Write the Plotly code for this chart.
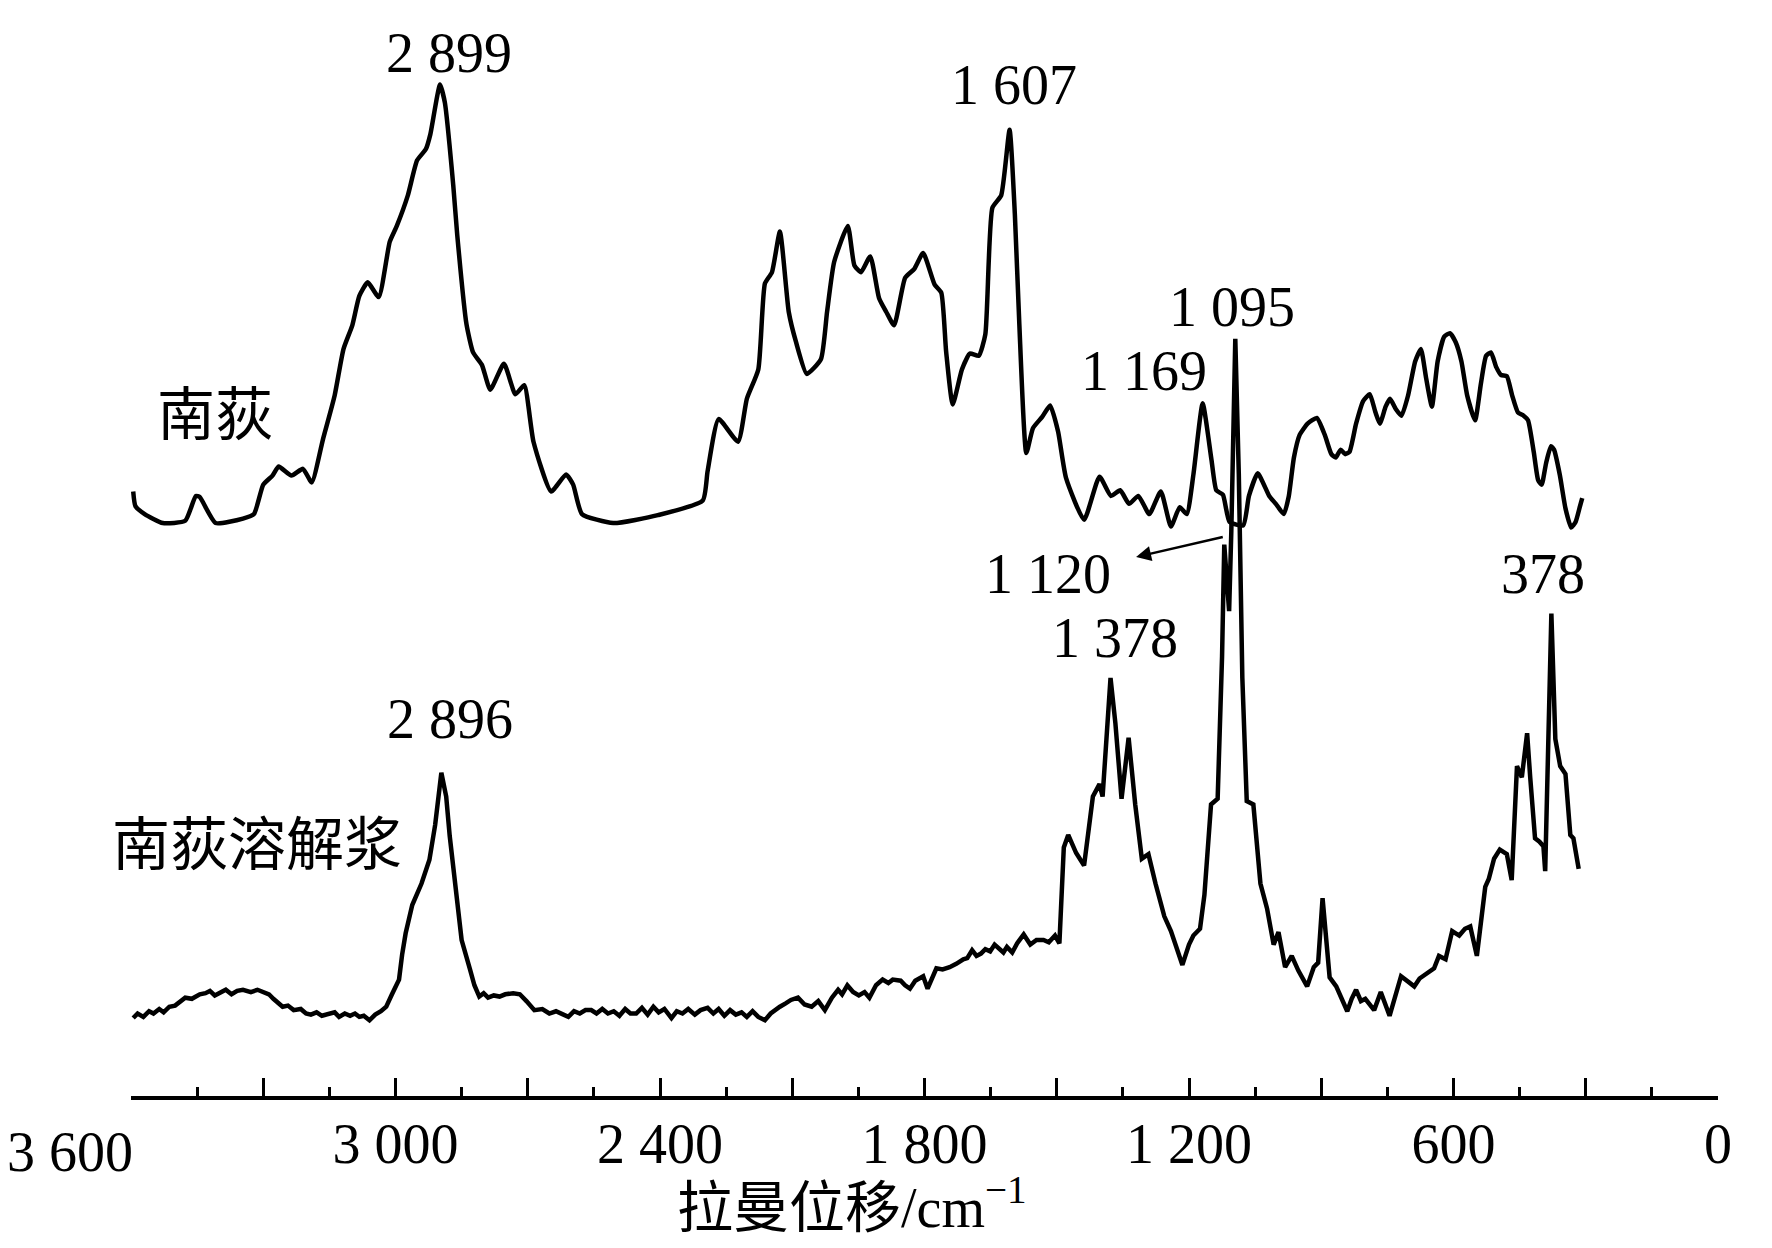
import plotly.graph_objects as go

# 南荻 (upper spectrum): Raman shift (cm-1) and intensity (a.u., offset)
UPPER_WN = [
    3595, 3590, 3569, 3528, 3477, 3453, 3444, 3408, 3346, 3321, 3300, 3279, 3265, 3236, 3210, 3190,
    3164, 3138, 3118, 3098, 3082, 3063, 3038, 3013, 2997, 2972, 2951, 2931, 2921, 2899, 2888, 2869,
    2860, 2839, 2824, 2804, 2785, 2754, 2728, 2708, 2687, 2647, 2613, 2597, 2577, 2506, 2405, 2303,
    2292, 2267, 2223, 2203, 2177, 2162, 2146, 2128, 2108, 2092, 2067, 2035, 2021, 2005, 1974, 1959,
    1944, 1923, 1903, 1887, 1869, 1844, 1823, 1803, 1777, 1762, 1751, 1736, 1715, 1697, 1677, 1662,
    1646, 1626, 1607, 1595, 1585, 1569, 1554, 1533, 1515, 1497, 1479, 1438, 1403, 1377, 1356, 1336,
    1315, 1290, 1264, 1241, 1221, 1205, 1190, 1169, 1149, 1138, 1123, 1108, 1077, 1064, 1044, 1018,
    1003, 985, 974, 962, 949, 931, 910, 892, 877, 867, 856, 846, 836, 821, 805, 790,
    777, 767, 754, 744, 731, 718, 703, 687, 674, 662, 649, 636, 621, 608, 595, 582,
    569, 551, 538, 526, 515, 503, 492, 479, 467, 454, 441, 431, 418, 408, 400, 390,
    379, 372, 359, 346, 333, 323, 313, 308,
]
UPPER_I = [
    535, 522, 515, 507, 509, 531, 530, 507, 511, 515, 541, 549, 557, 549, 555, 543,
    582, 620, 661, 682, 708, 720, 707, 756, 770, 797, 828, 838, 851, 895, 879, 806,
    762, 683, 658, 647, 625, 648, 621, 629, 579, 535, 550, 541, 515, 507, 514, 527,
    553, 599, 579, 617, 643, 719, 729, 765, 694, 668, 639, 652, 694, 738, 770, 735,
    729, 743, 706, 694, 682, 724, 732, 746, 718, 711, 659, 612, 643, 657, 655, 674,
    786, 797, 855, 780, 684, 569, 591, 601, 611, 588, 547, 510, 548, 531, 536, 524,
    531, 515, 535, 504, 521, 515, 550, 613, 563, 536, 532, 508, 505, 531, 551, 531,
    524, 515, 530, 565, 585, 595, 600, 585, 568, 565, 572, 568, 570, 595, 615, 621,
    605, 595, 610, 617, 608, 602, 620, 650, 661, 635, 610, 650, 672, 675, 667, 650,
    620, 598, 630, 655, 658, 645, 638, 637, 620, 605, 602, 598, 570, 545, 541, 560,
    575, 572, 550, 520, 503, 508, 522, 529,
]

# 南荻溶解浆 (lower spectrum)
LOWER_WN = [
    3595, 3585, 3572, 3559, 3549, 3536, 3526, 3513, 3500, 3487, 3477, 3462, 3444, 3431, 3421, 3410,
    3397, 3385, 3372, 3359, 3346, 3328, 3313, 3297, 3287, 3277, 3264, 3256, 3244, 3231, 3215, 3203,
    3192, 3179, 3167, 3154, 3138, 3128, 3115, 3103, 3092, 3082, 3072, 3059, 3046, 3033, 3021, 3008,
    2992, 2985, 2977, 2962, 2941, 2923, 2910, 2896, 2885, 2877, 2865, 2850, 2831, 2821, 2810, 2800,
    2790, 2777, 2764, 2751, 2733, 2718, 2703, 2685, 2667, 2651, 2636, 2621, 2608, 2595, 2582, 2569,
    2556, 2544, 2531, 2518, 2505, 2492, 2479, 2467, 2454, 2441, 2428, 2415, 2403, 2390, 2374, 2362,
    2349, 2336, 2321, 2308, 2292, 2279, 2267, 2254, 2241, 2228, 2215, 2203, 2190, 2177, 2162, 2149,
    2136, 2128, 2115, 2103, 2087, 2072, 2056, 2041, 2026, 2010, 1996, 1987, 1975, 1962, 1949, 1936,
    1925, 1910, 1895, 1882, 1872, 1854, 1844, 1833, 1821, 1803, 1793, 1773, 1759, 1743, 1728, 1712,
    1703, 1692, 1682, 1672, 1662, 1651, 1641, 1631, 1621, 1613, 1601, 1590, 1575, 1560, 1546, 1530,
    1518, 1504, 1494, 1484, 1474, 1456, 1438, 1418, 1403, 1396, 1378, 1367, 1353, 1337, 1322, 1307,
    1292, 1276, 1256, 1241, 1231, 1215, 1200, 1190, 1175, 1165, 1150, 1135, 1125, 1120, 1109, 1104,
    1095, 1087, 1079, 1069, 1054, 1038, 1023, 1008, 997, 982, 967, 952, 932, 917, 907, 897,
    881, 866, 841, 831, 821, 810, 800, 780, 765, 754, 745, 719, 705, 689, 677, 664,
    644, 633, 618, 603, 587, 574, 562, 547, 538, 528, 520, 508, 495, 479, 468, 456,
    445, 433, 426, 415, 405, 396, 392, 385, 378, 369, 358, 346, 335, 328, 316,
]
LOWER_I = [
    69, 73, 70, 75, 73, 77, 74, 79, 80, 84, 87, 86, 90, 91, 93, 89,
    92, 94, 90, 93, 94, 92, 94, 92, 90, 86, 82, 79, 80, 76, 77, 73,
    72, 74, 71, 72, 74, 70, 73, 71, 73, 70, 71, 67, 72, 75, 79, 90,
    103, 125, 144, 169, 188, 209, 240, 286, 265, 230, 188, 138, 112, 98, 88, 91,
    87, 89, 88, 90, 91, 90, 84, 76, 77, 73, 75, 72, 70, 75, 73, 76,
    76, 73, 77, 73, 75, 71, 77, 73, 73, 78, 72, 79, 74, 77, 69, 75,
    73, 77, 72, 76, 78, 73, 77, 71, 76, 72, 74, 70, 75, 70, 67, 73,
    77, 79, 82, 85, 87, 81, 79, 84, 76, 87, 94, 90, 98, 92, 89, 92,
    87, 98, 103, 100, 103, 102, 98, 95, 102, 106, 95, 113, 112, 114, 117, 121,
    122, 129, 124, 126, 130, 128, 134, 131, 127, 132, 127, 135, 143, 134, 138, 138,
    136, 142, 135, 220, 231, 215, 204, 265, 276, 265, 370, 330, 263, 317, 258, 210,
    214, 188, 159, 146, 134, 116, 134, 142, 148, 178, 258, 263, 389, 488, 429, 500,
    670, 550, 370, 261, 258, 188, 166, 134, 145, 114, 124, 111, 97, 114, 118, 175,
    105, 97, 75, 86, 94, 84, 86, 76, 92, 80, 71, 106, 102, 97, 104, 108,
    113, 124, 121, 146, 142, 148, 150, 124, 155, 185, 192, 210, 218, 214, 191, 292,
    282, 321, 282, 228, 225, 221, 199, 310, 427, 316, 292, 285, 231, 228, 201,
]

TICK_VALS = [3600, 3300, 3000, 2700, 2400, 2100, 1800, 1500, 1200, 900, 600, 300, 0]
TICK_TEXT = ["", "", "3 000", "", "2 400", "", "1 800", "", "1 200", "", "600", "", "0"]

# peak labels: text, x (cm-1), y (a.u.)
PEAK_TEXT = ["2 899", "1 607", "1 095", "1 169", "1 120", "1 378", "378", "2 896"]
PEAK_X = [2879, 1597, 1103, 1303, 1520, 1367, 397, 2877]
PEAK_Y = [923, 895, 698, 642, 462, 405, 462, 334]

SERIES_NAMES = ["南荻", "南荻溶解浆"]
NAME_X = [3410, 3315]
NAME_Y = [602, 222]

FONT = "Liberation Serif, Noto Sans CJK SC, serif"

fig = go.Figure()
fig.add_trace(go.Scatter(x=UPPER_WN, y=UPPER_I, mode="lines",
                         line=dict(color="black", width=4.5, shape="spline", smoothing=0.5),
                         showlegend=False))
fig.add_trace(go.Scatter(x=LOWER_WN, y=LOWER_I, mode="lines",
                         line=dict(color="black", width=4.5), showlegend=False))

for t, x, y in zip(PEAK_TEXT, PEAK_X, PEAK_Y):
    fig.add_annotation(x=x, y=y, text=t, showarrow=False,
                       font=dict(family=FONT, size=56, color="black"))

for t, x, y in zip(SERIES_NAMES, NAME_X, NAME_Y):
    fig.add_annotation(x=x, y=y, text=t, showarrow=False,
                       font=dict(family=FONT, size=58, color="black"))

# arrow from the 1120 peak to its label
fig.add_annotation(x=1320, y=477, ax=1120, ay=495, axref="x", ayref="y",
                   text="", showarrow=True, arrowhead=2, arrowsize=1.2,
                   arrowwidth=2.5, arrowcolor="black")

# 3 600 label sits left of the axis start
fig.add_annotation(x=3600, y=0, yref="y", xanchor="right", yanchor="middle",
                   xshift=4, yshift=-56,
                   text="3 600", showarrow=False,
                   font=dict(family=FONT, size=56, color="black"))

fig.add_annotation(x=0.4543, y=-0.133, xref="paper", yref="paper",
                   text="拉曼位移/cm<sup>−1</sup>", showarrow=False,
                   font=dict(family=FONT, size=56, color="black"))

fig.update_xaxes(
    range=[3600, 0], showline=True, linecolor="black", linewidth=3.5,
    showgrid=False, zeroline=False,
    tickmode="array", tickvals=TICK_VALS, ticktext=TICK_TEXT,
    ticks="inside", ticklen=18, tickwidth=3, tickcolor="black",
    minor=dict(dtick=150, tick0=0, ticks="inside", ticklen=9, tickwidth=3, tickcolor="black"),
    tickfont=dict(family=FONT, size=56, color="black"),
    ticklabelstandoff=-4,
)
fig.update_yaxes(range=[0, 962.8], visible=False)

# page body keeps an 8 px margin, so the figure is 16 px smaller than the window
fig.update_layout(
    width=1756, height=1232,
    margin=dict(l=123, r=46, t=0, b=144),
    paper_bgcolor="white", plot_bgcolor="white",
    showlegend=False,
)

fig.write_html("out.html")
